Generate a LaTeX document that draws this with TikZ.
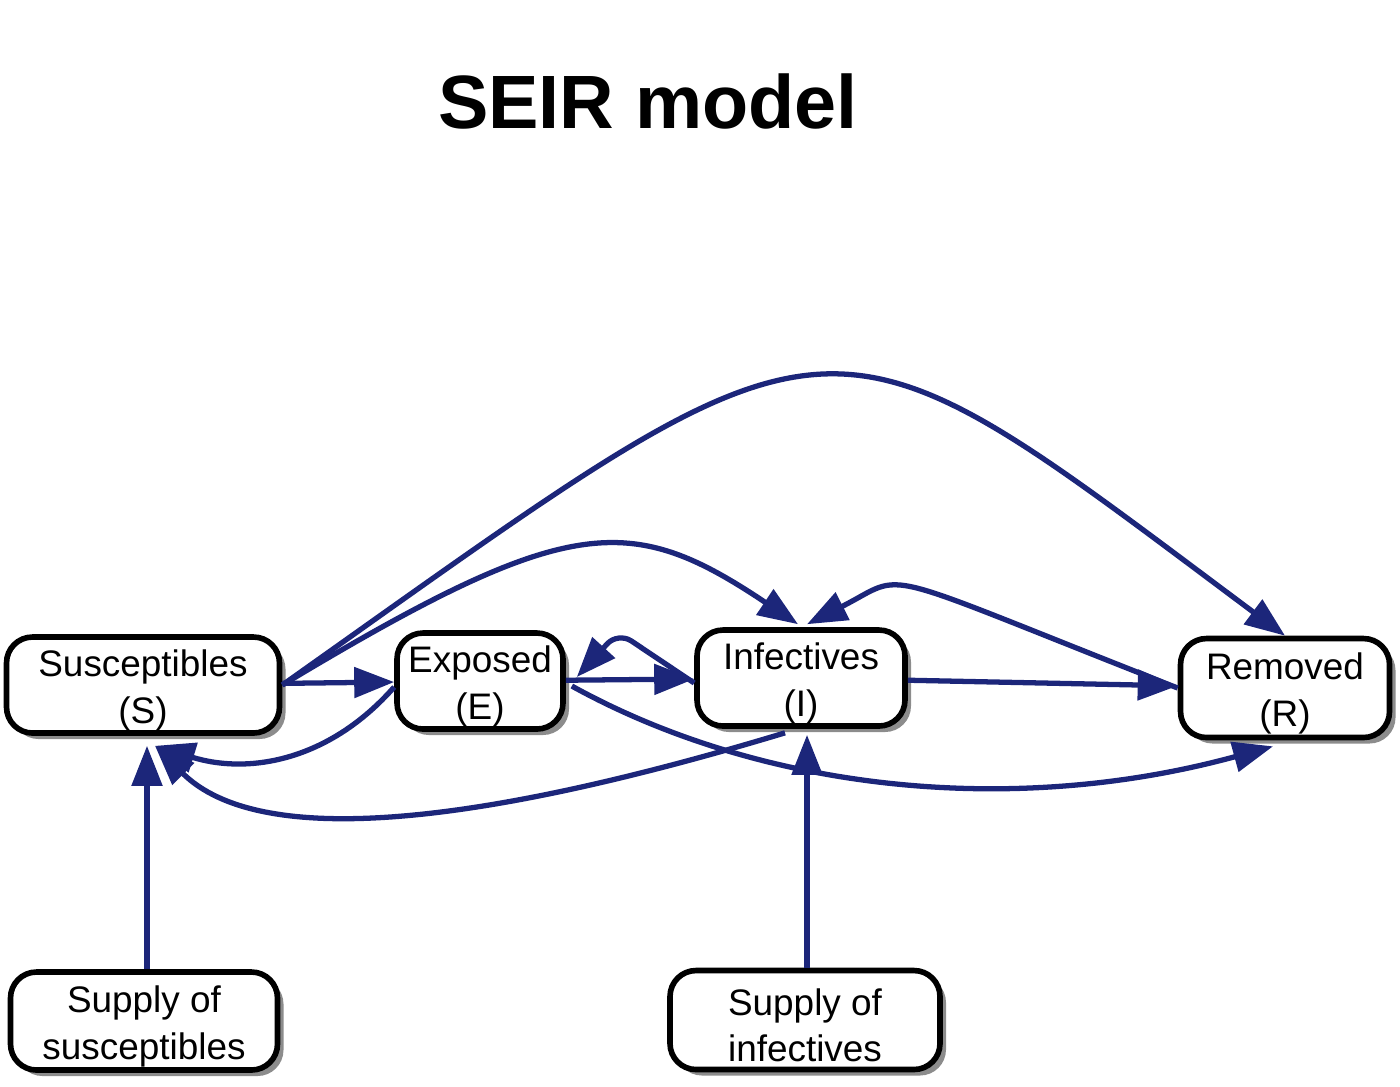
\documentclass[tikz,border=0pt]{standalone}
\usepackage{fontspec}
\setmainfont{Liberation Sans}
\usetikzlibrary{calc, shadows, arrows.meta}
\definecolor{flowblue}{RGB}{28,38,122}
\newcommand{\boxlines}[2]{\rule{0pt}{10.6pt}#1\\#2}

\begin{document}
\begin{tikzpicture}[
	x=0.1mm, y=-0.1mm,
	box/.style={
		draw=black, line width=1.6pt, rounded corners=2.6mm, fill=white,
		align=center, inner sep=0pt,
		font=\fontsize{10.5}{13.3}\selectfont,
		drop shadow={shadow xshift=0.6mm, shadow yshift=-0.6mm, fill=black!45, opacity=1}
	},
	flow/.style={draw=flowblue, line width=1.5pt, -{Triangle[length=4mm, width=3mm]}}
	]
	\useasboundingbox (0,0) rectangle (1400,1086);
	
	% Title
	\node[font=\bfseries\fontsize{21.5}{26}\selectfont] (title) at (648,101) {SEIR model};
	
	% Compartments
	\node[box, minimum width=27.3mm, minimum height=9.6mm] (sus) at (143,685) {\boxlines{Susceptibles}{(S)}};
	\node[box, minimum width=16.6mm, minimum height=9.6mm] (exp) at (480,681) {\boxlines{Exposed}{(E)}};
	\node[box, minimum width=20.8mm, minimum height=9.6mm] (inf) at (801,678) {\boxlines{Infectives}{(I)}};
	\node[box, minimum width=20.9mm, minimum height=9.9mm] (rem) at (1285,688) {\boxlines{Removed}{(R)}};
	
	% Supplies
	\node[box, minimum width=26.7mm, minimum height=9.8mm] (supsus) at (144,1021) {\boxlines{Supply of}{susceptibles}};
	\node[box, minimum width=27mm, minimum height=9.9mm] (supinf) at (805,1020) {\boxlines{Supply of}{infectives}};
	
	% Straight flows
	\draw[flow] (sus) -- (exp);
	\draw[flow] (exp) -- (inf);
	\draw[flow] (inf) -- (rem);
	\draw[flow] ($(supsus.north)+(3,0)$) -- ($(supsus.north |- sus.south)+(3,10)$);
	\draw[flow] ($(supinf.north)+(2,0)$) -- ($(supinf.north |- inf.south)+(2,6)$);
	
	% Curved flows
	\draw[flow] (sus.east) .. controls (850,283) and (812,283) .. (rem.north);
	\draw[flow] (sus.east) .. controls (570,512) and (630,512) .. ($(inf.north)+(-3,-3)$);
	\draw[flow] (rem.west) .. controls (864,565) and (910,572) .. ($(inf.north)+(6,-3)$);
	\draw[flow, rounded corners=1.6mm] ($(inf.west)+(0,5)$) -- (618,632) -- ($(exp.east)+(11,-4)$);
	\draw[flow] ($(exp.west)+(0,6)$) .. controls (330,760) and (250,775) .. ($(sus.south)+(12,10)$);
	\draw[flow] ($(inf.south)+(-16,4)$) .. controls (480,825) and (260,850) .. ($(sus.south)+(12,10)$);
	\draw[flow] ($(exp.east)+(6,5)$) .. controls (760,790) and (1010,818) .. ($(rem.south)+(-12,6)$);
	
\end{tikzpicture}
\end{document}
